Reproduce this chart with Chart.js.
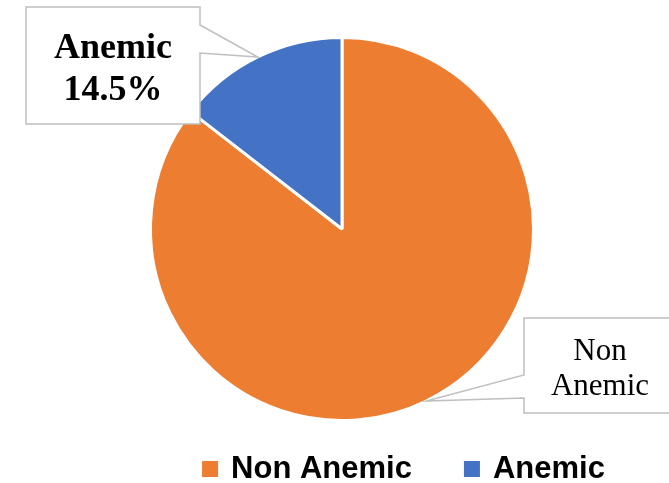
<!DOCTYPE html>
<html>
<head>
<meta charset="utf-8">
<script src="https://cdn.jsdelivr.net/npm/chart.js@4/dist/chart.umd.min.js"></script>
<style>
  body { margin: 0; background: #fff; }
  #wrap { width: 669px; height: 483px; }
</style>
</head>
<body>
<div id="wrap"><canvas id="pieChart" width="669" height="483"></canvas></div>
<script>
const labels = ['Non Anemic', 'Anemic'];
const values = [85.5, 14.5];
const colors = ['#ED7D31', '#4472C4'];
// which slices get a callout, and whether it shows the percent
const showPercent = [false, true];

// callout boxes (canvas px) - tail side is where the pointer leaves the box
const callouts = [
  { box: [524, 318, 676, 413], side: 'left', tail: [375, 398], font: '31px "Liberation Serif"', lineGap: 35, firstBase: 360 },
  { box: [26, 7, 200, 124], side: 'right', tail: [25, 53], font: 'bold 36px "Liberation Serif"', lineGap: 42, firstBase: 58 }
];

function calloutText(i) {
  if (showPercent[i]) return [labels[i], values[i].toFixed(1) + '%'];
  return labels[i].split(' ');
}

const calloutPlugin = {
  id: 'callouts',
  afterDatasetsDraw(chart) {
    const ctx = chart.ctx;
    const arcs = chart.getDatasetMeta(0).data;
    callouts.forEach((c, i) => {
      const arc = arcs[i];
      const mid = (arc.startAngle + arc.endAngle) / 2;
      const r = arc.outerRadius;
      const tip = [arc.x + Math.cos(mid) * r, arc.y + Math.sin(mid) * r];
      const [x0, y0, x1, y1] = c.box;
      ctx.save();
      ctx.beginPath();
      if (c.side === 'right') {
        ctx.moveTo(x0, y0);
        ctx.lineTo(x1, y0);
        ctx.lineTo(x1, c.tail[0]);
        ctx.lineTo(tip[0], tip[1]);
        ctx.lineTo(x1, c.tail[1]);
        ctx.lineTo(x1, y1);
        ctx.lineTo(x0, y1);
      } else {
        ctx.moveTo(x0, y0);
        ctx.lineTo(x1, y0);
        ctx.lineTo(x1, y1);
        ctx.lineTo(x0, y1);
        ctx.lineTo(x0, c.tail[1]);
        ctx.lineTo(tip[0], tip[1]);
        ctx.lineTo(x0, c.tail[0]);
      }
      ctx.closePath();
      ctx.fillStyle = '#fff';
      ctx.fill();
      ctx.strokeStyle = '#BFBFBF';
      ctx.lineWidth = 1.5;
      ctx.stroke();

      ctx.fillStyle = '#000';
      ctx.font = c.font;
      ctx.textAlign = 'center';
      ctx.textBaseline = 'alphabetic';
      const cx = (x0 + Math.min(x1, 676)) / 2;
      calloutText(i).forEach((t, k) => {
        ctx.fillText(t, cx, c.firstBase + k * c.lineGap);
      });
      ctx.restore();
    });
  }
};

// bottom legend, laid out like the original (offset to the right)
const legendPlugin = {
  id: 'bottomLegend',
  afterDraw(chart) {
    const ctx = chart.ctx;
    const items = Chart.overrides.pie.plugins.legend.labels.generateLabels(chart);
    ctx.save();
    ctx.font = 'bold 31px "Liberation Sans"';
    const box = 16, gap = 13, itemGap = 52;
    const widths = items.map(it => box + gap + ctx.measureText(it.text).width);
    const total = widths.reduce((a, b) => a + b, 0) + itemGap * (items.length - 1);
    let x = 403.5 - total / 2;
    const base = 478;
    items.forEach((it, k) => {
      ctx.fillStyle = it.fillStyle;
      ctx.fillRect(x, 461, box, box);
      ctx.fillStyle = '#000';
      ctx.textBaseline = 'alphabetic';
      ctx.fillText(it.text, x + box + gap, base);
      x += widths[k] + itemGap;
    });
    ctx.restore();
  }
};

const ctx = document.getElementById('pieChart').getContext('2d');
new Chart(ctx, {
  type: 'pie',
  data: {
    labels: labels,
    datasets: [{
      data: values,
      backgroundColor: colors,
      borderColor: '#ffffff',
      borderWidth: 3
    }]
  },
  options: {
    responsive: false,
    animation: false,
    layout: {
      padding: { top: 36, right: 0, bottom: 61, left: 15 }
    },
    plugins: {
      legend: { display: false },
      tooltip: { enabled: false }
    }
  },
  plugins: [calloutPlugin, legendPlugin]
});
</script>
</body>
</html>
